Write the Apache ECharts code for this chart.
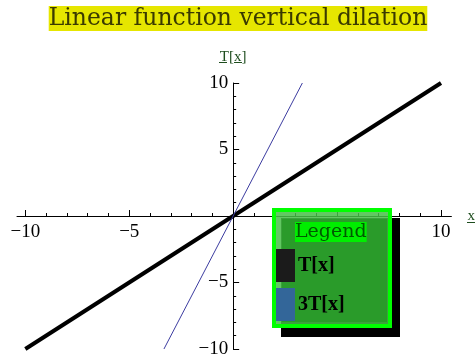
<!DOCTYPE html>
<html>
<head>
<meta charset="utf-8">
<script src="https://cdn.jsdelivr.net/npm/echarts@6/dist/echarts.min.js"></script>
<style>
  html, body { margin: 0; padding: 0; background: #fff; }
  #chart { width: 476px; height: 358px; }
</style>
</head>
<body>
<div id="chart"></div>
<script>
// line end points
const tPoints = [[-10, -10], [10, 10]];
const dilatedPoints = [[-3.33, -10], [3.33, 10]];
const seriesNames = ['T[x]', '3T[x]'];
const xMajorTicks = [-10, -5, 5, 10];
const xMinorTicks = [-10, -9, -8, -7, -6, -5, -4, -3, -2, -1, 1, 2, 3, 4, 5, 6, 7, 8, 9, 10];
const yMajorTicks = [-10, -5, 5, 10];
const yMinorTicks = [-10, -9, -8, -7, -6, -5, -4, -3, -2, -1, 1, 2, 3, 4, 5, 6, 7, 8, 9, 10];
const xRange = [-10.4, 10.5];
const yRange = [-10, 10];

const serif = 'Liberation Serif';
const nameGreen = '#1e4d1e';
const minus = v => String(v).replace('-', '\u2212');

// grid box in pixels, axes are pushed to the origin with offsets
const gridBox = {left: 17, right: 24.6, top: 83, bottom: 9};
const plotW = 476 - gridBox.left - gridBox.right;
const plotH = 358 - gridBox.top - gridBox.bottom;
const zeroX = plotW * (0 - xRange[0]) / (xRange[1] - xRange[0]);
const zeroY = plotH * (yRange[1] - 0) / (yRange[1] - yRange[0]);

const chart = echarts.init(document.getElementById('chart'), null, {renderer: 'canvas'});

const labelStyle = {color: '#000', fontFamily: serif, fontSize: 19, formatter: minus};

chart.setOption({
    animation: false,
    title: {
        text: 'Linear function vertical dilation',
        left: 'center',
        top: 6,
        padding: [1, 0, 0, 0],
        backgroundColor: '#e6e600',
        textStyle: {color: '#3a3a00', fontFamily: 'DejaVu Serif', fontSize: 23.5, fontWeight: 'normal'}
    },
    grid: Object.assign({outerBoundsMode: 'none', containLabel: false}, gridBox),
    xAxis: [
        {
            type: 'value', min: xRange[0], max: xRange[1],
            position: 'bottom', offset: -(plotH - zeroY),
            splitLine: {show: false},
            axisLine: {onZero: false, lineStyle: {color: '#000', width: 1}},
            name: 'x', nameLocation: 'end', nameGap: 16,
            nameTextStyle: {color: nameGreen, fontFamily: serif, fontSize: 15, verticalAlign: 'middle'},
            axisTick: {inside: true, length: 6, customValues: xMajorTicks, lineStyle: {color: '#000'}},
            axisLabel: Object.assign({customValues: xMajorTicks, margin: 7}, labelStyle)
        },
        {
            type: 'value', min: xRange[0], max: xRange[1],
            position: 'top', offset: -zeroY,
            splitLine: {show: false},
            axisLine: {show: false, onZero: false},
            axisLabel: {show: false},
            axisTick: {inside: false, length: 3, customValues: xMinorTicks, lineStyle: {color: '#000'}}
        }
    ],
    yAxis: [
        {
            type: 'value', min: yRange[0], max: yRange[1],
            position: 'left', offset: -zeroX,
            splitLine: {show: false},
            axisLine: {onZero: false, lineStyle: {color: '#000', width: 1}},
            name: 'T[x]', nameLocation: 'end', nameGap: 18,
            nameTextStyle: {color: nameGreen, fontFamily: serif, fontSize: 15},
            axisTick: {inside: true, length: 6, customValues: yMajorTicks, lineStyle: {color: '#000'}},
            axisLabel: Object.assign({customValues: yMajorTicks, margin: 5}, labelStyle)
        },
        {
            type: 'value', min: yRange[0], max: yRange[1],
            position: 'right', offset: -(plotW - zeroX),
            splitLine: {show: false},
            axisLine: {show: false, onZero: false},
            axisLabel: {show: false},
            axisTick: {inside: false, length: 3, customValues: yMinorTicks, lineStyle: {color: '#000'}}
        }
    ],
    legend: {
        orient: 'vertical',
        left: 276, top: 249,
        padding: 0,
        itemWidth: 19, itemHeight: 33, itemGap: 6,
        icon: 'rect',
        z: 6,
        textStyle: {color: '#000', fontFamily: serif, fontSize: 20, fontWeight: 'bold', padding: [0, 0, 0, -2]},
        data: [
            {name: seriesNames[0], itemStyle: {color: '#1b1b1b'}},
            {name: seriesNames[1], itemStyle: {color: '#336699'}}
        ]
    },
    graphic: [
        // legend frame: shadow, bright border, lighter inner strip, dark body
        {type: 'rect', z: 3, shape: {x: 281, y: 218, width: 119, height: 119}, style: {fill: '#000'}},
        {type: 'rect', z: 3, shape: {x: 274, y: 210, width: 116, height: 116}, style: {fill: 'none', stroke: '#00ff00', lineWidth: 4}},
        {type: 'rect', z: 3, shape: {x: 276, y: 212, width: 112, height: 112}, style: {fill: 'rgba(70,190,70,0.85)'}},
        {type: 'rect', z: 3, shape: {x: 282, y: 219, width: 105, height: 103}, style: {fill: '#2a9b2a'}},
        {type: 'text', z: 4, x: 295, y: 222, style: {text: 'Legend', fill: '#005a00', font: '19px "DejaVu Serif"', backgroundColor: '#00ee00', padding: [1, 0, 0, 0]}},
        // underlines of the axis names
        {type: 'line', z: 4, shape: {x1: 219, y1: 62.5, x2: 227, y2: 62.5}, style: {stroke: nameGreen, lineWidth: 1}},
        {type: 'line', z: 4, shape: {x1: 234, y1: 62.5, x2: 242, y2: 62.5}, style: {stroke: nameGreen, lineWidth: 1}},
        {type: 'line', z: 4, shape: {x1: 467, y1: 222.5, x2: 475, y2: 222.5}, style: {stroke: nameGreen, lineWidth: 1}}
    ],
    series: [
        {
            name: seriesNames[0], type: 'line', data: tPoints, symbol: 'none', z: 2,
            lineStyle: {color: '#000', width: 4}, itemStyle: {color: '#1b1b1b'}
        },
        {
            name: seriesNames[1], type: 'line', data: dilatedPoints, symbol: 'none', z: 2,
            lineStyle: {color: '#3c3ca0', width: 1}, itemStyle: {color: '#336699'}
        }
    ]
});
</script>
</body>
</html>
